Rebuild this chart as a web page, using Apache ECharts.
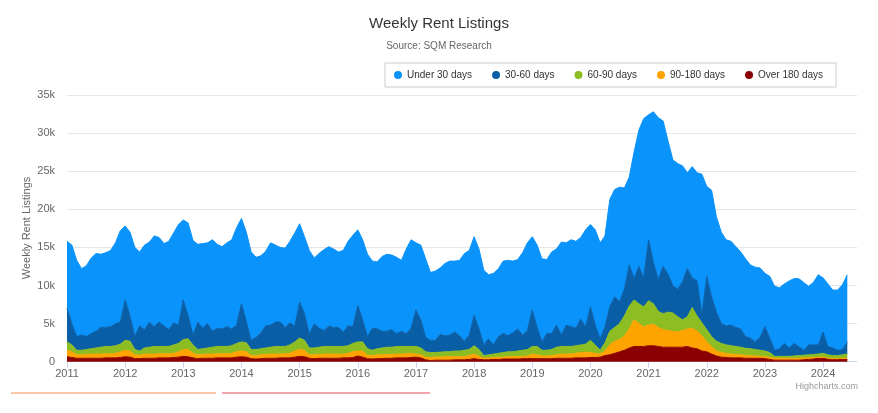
<!DOCTYPE html>
<html>
<head>
<meta charset="utf-8">
<script src="https://cdn.jsdelivr.net/npm/echarts@6/dist/echarts.min.js"></script>
<style>
html,body{margin:0;padding:0;background:#fff;}
#chart{width:878px;height:413px;}
</style>
</head>
<body>
<div id="chart"></div>
<script>
// Monthly readings, Jan 2011 .. Jun 2024 (axis runs on to Aug 2024)
const startYear = 2011;
const endYear = 2024, endMonth = 8; // last axis category (Aug 2024)

const under30 = [
  8800,10300,10000,8700,9300,9900,10200,9600,9800,10000,10600,12000,
  9700,11000,11700,9700,11100,10500,11900,11100,10800,11600,11800,13200,
  10500,12200,12400,10200,11100,10600,12000,11000,10800,11000,11700,12800,
  11200,11700,11600,10500,10100,9800,10800,10100,9800,10400,10700,12200,
  10300,10100,11000,8600,9800,10600,10400,10300,9900,10700,11100,12000,
  9900,10500,10800,8800,8800,9800,10100,9800,10000,9300,11100,11600,
  8800,9800,10300,8900,9100,8700,9500,9700,9300,9900,11500,11100,
  10300,10500,9800,8400,9400,8900,9500,9900,9400,9100,10800,11500,
  9600,10800,10900,9700,10700,10000,12200,10800,11400,11400,10700,12700,
  10800,12500,12600,11900,14100,14100,15000,13300,11500,16600,17900,20900,
  16400,19800,21200,19100,17500,16500,16500,15200,12600,14600,14200,18400,
  11800,14000,12500,12000,11300,11000,10600,10100,10200,9600,9800,9100,
  7000,8100,8400,8000,7800,8800,8500,8900,8900,7700,8200,9200,
  7100,8200,7600,7900,8500,8800
];
const d30to60 = [
  4400,2800,1800,2000,1700,2000,2200,2600,2500,2600,2900,2900,
  5300,3300,1700,3300,2400,3300,2600,3200,2700,2200,2900,2400,
  5200,3000,1300,3600,2700,3200,2100,2400,2300,2600,2200,2400,
  5000,2800,1200,1600,2100,2900,2900,3200,3200,2500,2900,2100,
  4700,3500,1800,3200,2500,2100,2700,2500,2500,1900,2600,2200,
  4800,2900,1600,2900,2600,2200,2100,2300,1700,2000,1700,2400,
  4800,3700,1900,1600,1600,2350,2100,2200,2500,2000,1200,1900,
  4000,2700,1400,2100,1200,2200,2500,2100,2500,2900,2000,2500,
  4800,2500,1100,2200,2100,2900,1500,2800,2600,2300,3400,2300,
  4400,2600,1500,2100,3200,4000,2900,3500,5400,2800,4900,3800,
  8000,5400,4200,6200,5000,3600,3600,5000,6300,3900,4600,1100,
  7000,5200,3800,2600,2500,2700,2500,2400,1550,1400,1000,1700,
  3200,1900,800,1000,1700,1100,1650,1200,650,1300,1250,1200,
  2800,1100,1000,700,700,1600
];
const d60to90 = [
  1100,900,600,600,650,700,800,900,950,950,1000,1000,
  1300,1300,700,550,800,900,1000,950,950,950,1100,1100,
  1300,1400,1100,700,750,800,900,950,950,950,1000,1100,
  1200,1200,800,800,800,850,900,1000,1000,950,1100,1200,
  1500,1300,900,900,950,1000,1000,1000,1000,1000,1000,1100,
  1200,1200,850,700,800,900,950,950,1000,1000,950,900,
  1000,900,700,650,600,650,650,650,750,750,800,800,
  1100,900,350,400,450,500,600,650,650,700,800,850,
  1000,1100,750,750,800,1000,1000,1000,1000,1000,1000,1050,
  1600,1100,500,1100,1800,1800,2100,2600,3000,2600,2600,2600,
  3200,2700,2100,2100,2400,2400,2000,1400,1600,2700,2000,1700,
  1600,1300,1300,1200,1100,1100,1050,1000,900,900,850,800,
  750,650,250,250,250,250,300,350,350,400,400,400,
  500,450,400,400,450,550
];
const d90to180 = [
  850,750,450,450,500,550,550,550,550,550,600,750,
  850,800,500,450,550,550,550,550,550,550,550,700,
  900,950,600,500,500,550,550,550,550,550,600,700,
  750,700,400,450,500,500,550,550,500,550,600,800,
  900,850,450,500,500,550,550,550,550,500,600,750,
  650,800,450,450,500,500,500,500,500,500,550,550,
  400,400,350,400,400,400,450,450,400,400,450,500,
  600,400,200,250,250,300,250,300,300,350,300,350,
  600,500,350,350,400,450,550,550,550,600,700,750,
  650,550,400,600,1300,1600,1600,1900,2500,3500,3000,2600,
  2700,2800,2500,2300,2200,2100,2000,2200,2300,2600,2300,2000,
  1300,1000,650,600,550,500,450,400,400,350,300,250,
  250,250,250,250,250,250,250,250,250,200,200,150,
  150,100,100,100,150,150
];
const over180 = [
  650,550,450,450,450,450,450,450,500,500,500,550,
  650,600,400,400,450,450,450,500,500,500,550,600,
  700,650,500,400,450,450,450,500,500,500,500,600,
  650,600,400,350,400,450,450,450,500,500,500,600,
  700,650,450,400,450,450,450,450,450,500,500,550,
  750,600,400,350,400,400,450,450,500,500,500,550,
  600,500,250,150,200,200,200,200,250,250,250,300,
  400,300,250,250,300,300,350,350,350,350,400,400,
  400,400,400,400,400,450,450,450,450,500,500,500,
  550,550,600,800,900,1100,1300,1500,1800,2000,2000,2000,
  2100,2100,2000,1900,1900,1900,1900,1900,2000,1800,1700,1400,
  1300,1000,750,600,550,500,500,500,450,450,450,450,
  400,300,200,200,200,200,200,200,250,300,350,450,
  450,350,300,300,300,300
];

const seriesNames = ['Under 30 days','30-60 days','60-90 days','90-180 days','Over 180 days'];
const seriesColors = ['#0a93fb','#0a5ea6','#8cbd22','#ffa300','#8b0000'];

// month categories
const months = [];
for (let y = startYear; y <= endYear; y++) {
  for (let m = 1; m <= 12; m++) {
    if (y === endYear && m > endMonth) break;
    months.push(y + '-' + (m < 10 ? '0' + m : m));
  }
}
const isYearStart = (i, v) => v.slice(5) === '01';

const stackOrder = [
  {name: seriesNames[4], data: over180, color: seriesColors[4]},
  {name: seriesNames[3], data: d90to180, color: seriesColors[3]},
  {name: seriesNames[2], data: d60to90, color: seriesColors[2]},
  {name: seriesNames[1], data: d30to60, color: seriesColors[1]},
  {name: seriesNames[0], data: under30, color: seriesColors[0]}
];

const chart = echarts.init(document.getElementById('chart'), null, {renderer:'canvas'});
const FONT = '"Liberation Sans", Arial, sans-serif';
chart.setOption({
  animation: false,
  backgroundColor: '#ffffff',
  textStyle: {fontFamily: FONT},
  title: [
    {text: 'Weekly Rent Listings', left: 'center', top: 11,
     textStyle: {fontSize: 15, fontWeight: 'normal', color: '#333', fontFamily: FONT}},
    {text: 'Source: SQM Research', left: 'center', top: 36,
     textStyle: {fontSize: 10, fontWeight: 'normal', color: '#666', fontFamily: FONT}}
  ],
  legend: {
    data: seriesNames,
    left: 385, top: 63, width: 470,
    icon: 'circle', itemWidth: 8, itemHeight: 8, itemGap: 20,
    borderColor: '#cccccc', borderWidth: 1, borderRadius: 0,
    padding: [7, 13, 7, 9],
    textStyle: {fontSize: 10, color: '#333', fontFamily: FONT}
  },
  grid: {left: 67, right: 21, top: 95, bottom: 51.3, containLabel: false},
  xAxis: {
    type: 'category', data: months, boundaryGap: false,
    axisLine: {show: true, lineStyle: {color: '#ccd6eb'}},
    axisTick: {show: true, length: 6, interval: isYearStart, lineStyle: {color: '#ccd6eb'}},
    splitLine: {show: false},
    axisLabel: {color: '#666', fontSize: 11, margin: 7, interval: isYearStart,
      formatter: v => v.slice(0, 4)}
  },
  yAxis: {
    type: 'value', min: 0, max: 35000, interval: 5000,
    axisLine: {show: false}, axisTick: {show: false},
    splitLine: {lineStyle: {color: '#e6e6e6'}},
    axisLabel: {color: '#666', fontSize: 11, margin: 12,
      formatter: v => v === 0 ? '0' : (v/1000) + 'k'}
  },
  series: stackOrder.map(s => ({
    name: s.name, type: 'line', stack: 'total', data: s.data,
    showSymbol: false, symbol: 'none',
    lineStyle: {width: 1, color: s.color},
    itemStyle: {color: s.color},
    areaStyle: {color: s.color, opacity: 1}
  })),
  graphic: [
    {type: 'text', x: 27, y: 228, rotation: Math.PI / 2,
     style: {text: 'Weekly Rent Listings', fill: '#666', fontSize: 11, fontFamily: FONT,
             align: 'center', verticalAlign: 'middle'}},
    {type: 'text', right: 20, top: 382,
     style: {text: 'Highcharts.com', fill: '#999', fontSize: 9, fontFamily: FONT}},
    {type: 'rect', shape: {x: 11, y: 392, width: 205, height: 2}, style: {fill: '#f8c9a4'}},
    {type: 'rect', shape: {x: 222, y: 392, width: 208, height: 2}, style: {fill: '#f3a6ae'}}
  ]
});
</script>
</body>
</html>
